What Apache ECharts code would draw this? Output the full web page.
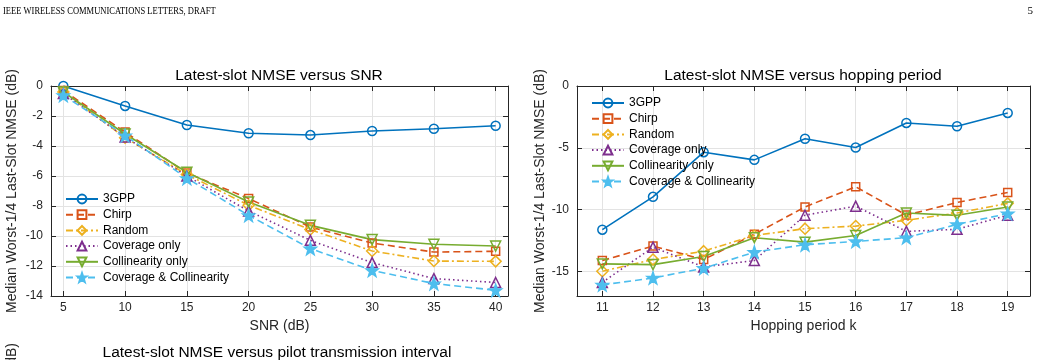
<!DOCTYPE html>
<html>
<head>
<meta charset="utf-8">
<script src="https://cdn.jsdelivr.net/npm/echarts@6/dist/echarts.min.js"></script>
<style>
  html, body { margin: 0; padding: 0; background: #fff; }
  #main { width: 1041px; height: 360px; }
</style>
</head>
<body>
<div id="main"></div>
<script>
  // 图例名称
  var methodNames = ['3GPP', 'Chirp', 'Random', 'Coverage only', 'Collinearity only', 'Coverage & Collinearity'];

  // 左图: NMSE vs SNR
  var snrValues = [5, 10, 15, 20, 25, 30, 35, 40];
  var snr3gpp = [0, -1.33, -2.6, -3.15, -3.27, -3.0, -2.85, -2.65];
  var snrChirp = [-0.3, -3.07, -5.8, -7.5, -9.4, -10.47, -11.07, -11.02];
  var snrRandom = [-0.4, -3.45, -5.9, -7.95, -9.57, -11.0, -11.67, -11.69];
  var snrCoverage = [-0.5, -3.4, -6.0, -8.33, -10.29, -11.77, -12.84, -13.1];
  var snrCollinearity = [-0.4, -3.2, -5.75, -7.73, -9.29, -10.24, -10.55, -10.67];
  var snrCovCol = [-0.62, -3.3, -6.15, -8.62, -10.84, -12.29, -13.17, -13.62];

  // 右图: NMSE vs hopping period
  var hopPeriods = [11, 12, 13, 14, 15, 16, 17, 18, 19];
  var hop3gpp = [-11.63, -8.97, -5.36, -5.98, -4.27, -4.98, -2.99, -3.26, -2.18];
  var hopChirp = [-14.13, -12.96, -14.05, -12.0, -9.79, -8.16, -10.45, -9.43, -8.62];
  var hopRandom = [-15.0, -14.05, -13.37, -12.1, -11.55, -11.34, -10.87, -10.28, -9.5];
  var hopCoverage = [-15.9, -13.05, -14.65, -14.13, -10.46, -9.73, -11.77, -11.6, -10.46];
  var hopCollinearity = [-14.4, -14.46, -13.8, -12.28, -12.64, -12.1, -10.28, -10.47, -9.79];
  var hopCovCol = [-16.1, -15.54, -14.75, -13.45, -12.85, -12.58, -12.28, -11.2, -10.33];

  // 刻度
  var snrTicks = [5, 10, 15, 20, 25, 30, 35, 40];
  var snrYTicks = [-14, -12, -10, -8, -6, -4, -2, 0];
  var hopTicks = [11, 12, 13, 14, 15, 16, 17, 18, 19];
  var hopYTicks = [-15, -10, -5, 0];

  var FONT = '"Liberation Sans", Arial, sans-serif';
  var AXIS_COLOR = '#262626';
  var GRID_COLOR = '#e3e3e3';

  var starPath = 'path://M0,-10L2.35,-3.24L9.51,-3.09L3.8,1.24L5.88,8.09L0,4L-5.88,8.09L-3.8,1.24L-9.51,-3.09L-2.35,-3.24Z';

  // 每条曲线的样式 (空心标记, 不填充)
  var styles = [
    { color: '#0072BD', type: 'solid', symbol: 'circle', size: 9, rotate: 0, fill: 'rgba(0,0,0,0)' },
    { color: '#D95319', type: [7, 4], symbol: 'rect', size: 8, rotate: 0, fill: 'rgba(0,0,0,0)' },
    { color: '#EDB120', type: [7, 3, 2, 3], symbol: 'diamond', size: 11, rotate: 0, fill: 'rgba(0,0,0,0)' },
    { color: '#7E2F8E', type: [1.5, 3], symbol: 'triangle', size: 10, rotate: 0, fill: 'rgba(0,0,0,0)' },
    { color: '#77AC30', type: 'solid', symbol: 'triangle', size: 10, rotate: 180, fill: 'rgba(0,0,0,0)' },
    { color: '#4DBEEE', type: [7, 4], symbol: starPath, size: 12, rotate: 0, fill: '#4DBEEE' }
  ];

  function makeSeries(xs, arrays, axisIdx) {
    return arrays.map(function (arr, k) {
      var s = styles[k];
      return {
        type: 'line',
        name: methodNames[k],
        xAxisIndex: axisIdx,
        yAxisIndex: axisIdx,
        data: xs.map(function (x, i) { return [x, arr[i]]; }),
        symbol: s.symbol,
        symbolSize: s.size,
        symbolRotate: s.rotate,
        showAllSymbol: true,
        animation: false,
        lineStyle: { color: s.color, width: 1.6, type: s.type },
        itemStyle: { color: s.fill, borderColor: s.color, borderWidth: 1.5 }
      };
    });
  }

  function xAxisPair(gridIdx, min, max, ticks, name) {
    var common = {
      type: 'value', gridIndex: gridIdx, min: min, max: max,
      axisLine: { show: true, onZero: false, lineStyle: { color: AXIS_COLOR, width: 1 } },
      axisTick: { show: true, inside: true, length: 5, customValues: ticks, lineStyle: { color: AXIS_COLOR } }
    };
    return [
      Object.assign({}, common, {
        position: 'bottom',
        name: name, nameLocation: 'middle', nameGap: 22,
        nameTextStyle: { fontFamily: FONT, fontSize: 14, color: AXIS_COLOR },
        axisLabel: { customValues: ticks, fontFamily: FONT, fontSize: 12, color: AXIS_COLOR, margin: 6 },
        splitLine: { show: true, lineStyle: { color: GRID_COLOR, width: 1 } }
      }),
      Object.assign({}, common, {
        position: 'top',
        axisLabel: { show: false },
        splitLine: { show: false }
      })
    ];
  }

  function yAxisPair(gridIdx, min, max, ticks, nameGap) {
    var common = {
      type: 'value', gridIndex: gridIdx, min: min, max: max,
      axisLine: { show: true, onZero: false, lineStyle: { color: AXIS_COLOR, width: 1 } },
      axisTick: { show: true, inside: true, length: 5, customValues: ticks, lineStyle: { color: AXIS_COLOR } }
    };
    return [
      Object.assign({}, common, {
        position: 'left',
        name: 'Median Worst-1/4 Last-Slot NMSE (dB)', nameLocation: 'middle', nameGap: nameGap,
        nameTextStyle: { fontFamily: FONT, fontSize: 14, color: AXIS_COLOR },
        axisLabel: { customValues: ticks, fontFamily: FONT, fontSize: 12, color: AXIS_COLOR, margin: 8 },
        splitLine: { show: true, lineStyle: { color: GRID_COLOR, width: 1 } }
      }),
      Object.assign({}, common, {
        position: 'right',
        axisLabel: { show: false },
        splitLine: { show: false }
      })
    ];
  }

  var xs = xAxisPair(0, 4, 41, snrTicks, 'SNR (dB)').concat(xAxisPair(1, 10.5, 19.44, hopTicks, 'Hopping period k'));
  var ys = yAxisPair(0, -14, 0, snrYTicks, 32).concat(yAxisPair(1, -17, 0, hopYTicks, 30));

  var series = makeSeries(snrValues, [snr3gpp, snrChirp, snrRandom, snrCoverage, snrCollinearity, snrCovCol], 0)
    .concat(makeSeries(hopPeriods, [hop3gpp, hopChirp, hopRandom, hopCoverage, hopCollinearity, hopCovCol], 2));

  function legendAt(left, top) {
    return {
      orient: 'vertical', left: left, top: top,
      data: methodNames,
      itemWidth: 32, itemHeight: 11, itemGap: 3.7,
      selectedMode: false,
      textStyle: { fontFamily: FONT, fontSize: 12, color: '#000', lineHeight: 12 },
      backgroundColor: 'transparent', borderWidth: 0, padding: 0
    };
  }

  var myChart = echarts.init(document.getElementById('main'), null, { renderer: 'canvas' });
  myChart.setOption({
    backgroundColor: '#fff',
    animation: false,
    grid: [
      { left: 51, top: 86, width: 457, height: 210, show: false },
      { left: 577, top: 86, width: 453, height: 210, show: false }
    ],
    xAxis: xs,
    yAxis: ys,
    legend: [legendAt(65, 193), legendAt(591, 97)],
    series: series,
    graphic: [
      { type: 'text', x: 3, y: 11, scaleX: 0.85, style: { text: 'IEEE WIRELESS COMMUNICATIONS LETTERS, DRAFT', font: '10px "Liberation Serif", serif', fill: '#000', textVerticalAlign: 'middle' } },
      { type: 'text', x: 1033, y: 11, style: { text: '5', font: '11px "Liberation Serif", serif', fill: '#000', textAlign: 'right', textVerticalAlign: 'middle' } },
      { type: 'text', x: 279, y: 76, style: { text: 'Latest-slot NMSE versus SNR', font: '15.5px ' + FONT, fill: '#000', textAlign: 'center', textVerticalAlign: 'middle' } },
      { type: 'text', x: 803, y: 76, style: { text: 'Latest-slot NMSE versus hopping period', font: '15.5px ' + FONT, fill: '#000', textAlign: 'center', textVerticalAlign: 'middle' } },
      { type: 'text', x: 277, y: 353, style: { text: 'Latest-slot NMSE versus pilot transmission interval', font: '15.5px ' + FONT, fill: '#000', textAlign: 'center', textVerticalAlign: 'middle' } },
      { type: 'text', x: 12, y: 343, rotation: Math.PI / 2, style: { text: 'Median Worst-1/4 Last-Slot NMSE (dB)', font: '14px ' + FONT, fill: AXIS_COLOR, textAlign: 'right', textVerticalAlign: 'middle' } },
      { type: 'text', x: 43, y: 367, style: { text: '0', font: '12px ' + FONT, fill: AXIS_COLOR, textAlign: 'right', textVerticalAlign: 'middle' } }
    ]
  });
  window.addEventListener('resize', function () { myChart.resize(); });
</script>
</body>
</html>
